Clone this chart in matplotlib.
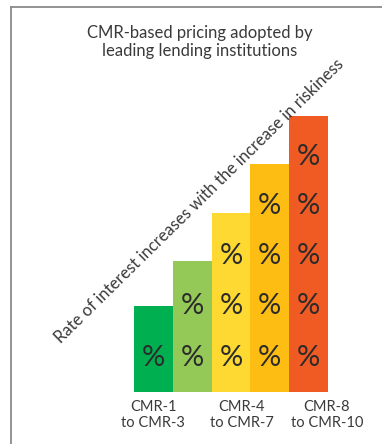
import matplotlib.pyplot as plt
from matplotlib.lines import Line2D

plt.rcParams['font.family'] = ['Lato', 'DejaVu Sans']

# data
bar_heights = [86, 131, 179, 228, 276]
pct_counts = [1, 2, 3, 4, 5]
pct_rows = [34, 86, 136, 186, 235]
bar_colors = ['#00AF50', '#95C957', '#FDD932', '#FDBD13', '#F05A23']
group_labels = ['CMR-1\nto CMR-3', 'CMR-4\nto CMR-7', 'CMR-8\nto CMR-10']
group_label_x = [0.0, 2.27, 4.47]
title = 'CMR-based pricing adopted by\nleading lending institutions'
arrow_text = 'Rate of interest increases with the increase in riskiness'

W, H = 382, 444
fig = plt.figure(figsize=(W / 100, H / 100), dpi=100)
fig.patch.set_facecolor('white')

# frame: only left and top edges visible
fig.add_artist(Line2D([11 / W, 11 / W], [0, 1 - 7 / H], color='#8a8a8a', lw=1.3))
fig.add_artist(Line2D([11 / W, 1], [1 - 7 / H, 1 - 7 / H], color='#8a8a8a', lw=1.3))

ax = fig.add_axes([134 / W, 52 / H, 194 / W, 276 / H])
x = list(range(len(bar_heights)))
ax.bar(x, bar_heights, width=1.0, color=bar_colors, linewidth=0)
ax.set_xlim(-0.5, 4.5)
ax.set_ylim(0, 276)
ax.axis('off')

for i, n in enumerate(pct_counts):
    for r in range(n):
        ax.text(i, pct_rows[r], '%', ha='center', va='center', fontsize=21,
                color='#2b2b2b', fontweight='normal')

for lx, lab in zip(group_label_x, group_labels):
    ax.text(lx, -23, lab, ha='center', va='center', fontsize=10.5,
            color='#3a3a3a', linespacing=1.1, clip_on=False)

fig.text(200 / W, 1 - 42 / H, title, ha='center', va='center', fontsize=12,
         color='#3a3a3a', linespacing=1.1)

fig.text(199 / W, 1 - 201 / H, arrow_text, ha='center', va='center',
         fontsize=12.0, color='#3a3a3a', rotation=44.5, rotation_mode='anchor')

fig.savefig('out.png', dpi=100)
